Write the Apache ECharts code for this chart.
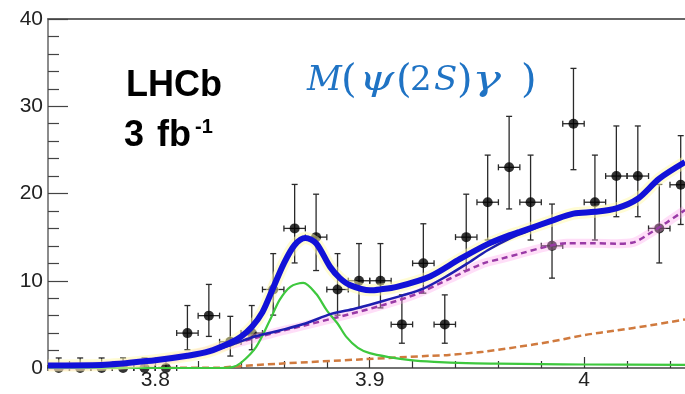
<!DOCTYPE html>
<html>
<head>
<meta charset="utf-8">
<script src="https://cdn.jsdelivr.net/npm/echarts@6/dist/echarts.min.js"></script>
<style>html,body{margin:0;padding:0;background:#fff;}#c{width:685px;height:394px;}</style>
</head>
<body>
<div id="c"></div>
<script>
// ---- data ----
const binCenters = [3.755,3.765,3.775,3.785,3.795,3.805,3.815,3.825,3.835,3.845,3.855,3.865,3.875,3.885,3.895,3.905,3.915,3.925,3.935,3.945,3.955,3.965,3.975,3.985,3.995,4.005,4.015,4.025,4.035,4.045];
const counts  = [0,0,0,0,0,0,4,6,3,4,9,16,15,9,10,10,5,12,5,15,19,23,19,14,28,19,22,22,16,21];
const errUp   = [1.15,1.15,1.15,1.15,1.15,1.15,3.16,3.58,2.92,3.16,4.11,5.04,4.92,4.11,4.26,4.26,3.38,4.53,3.38,4.92,5.40,5.84,5.40,4.79,6.34,5.40,5.74,5.74,5.04,5.63];
const errDown = [0,0,0,0,0,0,1.91,2.38,1.63,1.91,2.94,3.96,3.83,2.94,3.11,3.11,2.16,3.42,2.16,3.83,4.33,4.77,4.33,3.70,5.27,4.33,4.66,4.66,3.96,4.55];
const binHalfWidth = 0.005;

const totalX = [3.75,3.775,3.80,3.815,3.825,3.835,3.84,3.845,3.85,3.855,3.86,3.865,3.87,3.875,3.8815,3.8861,3.8908,3.9001,3.9048,3.9126,3.9281,3.9421,3.955,3.965,3.97,3.985,3.995,4.005,4.015,4.025,4.035,4.047];
const totalY = [0.3,0.35,0.9,1.4,1.9,2.9,3.6,4.7,6.4,9.2,12.0,14.1,14.9,14.3,11.6,10.3,9.5,8.9,9.0,9.3,10.5,12.5,14.2,15.2,15.6,16.9,17.7,17.9,18.3,19.4,21.7,23.6];

const thinX = [3.75,3.775,3.80,3.815,3.825,3.835,3.845,3.858,3.87,3.882,3.893,3.905,3.915,3.925,3.935,3.945,3.955,3.965,3.975,3.985];
const thinY = [0.3,0.35,0.9,1.4,1.9,2.6,3.5,4.3,5.1,6.2,6.8,7.6,8.3,9.1,10.4,11.9,13.5,14.8,15.8,16.9];

const bkgX = [3.75,3.775,3.80,3.82,3.84,3.855,3.87,3.891,3.906,3.922,3.937,3.953,3.961,3.97,3.984,3.992,4.004,4.015,4.023,4.031,4.038,4.047];
const bkgY = [0.2,0.3,0.8,1.7,3.0,4.0,4.9,6.2,7.2,8.5,10.2,12.0,12.5,13.1,14.0,14.3,14.3,14.25,14.4,15.5,16.6,18.1];

const bkg2X = [3.75,3.83,3.835,3.858,3.897,3.928,3.937,3.953,3.9685,3.984,4.0,4.015,4.031,4.047];
const bkg2Y = [0,0.03,0.15,0.5,1.0,1.4,1.5,1.87,2.4,3.0,3.77,4.3,4.9,5.56];

const sigX = [3.75,3.83,3.836,3.840,3.847,3.8535,3.858,3.863,3.869,3.875,3.880,3.885,3.889,3.8945,3.900,3.909,3.919,3.93,3.945,3.96,3.98,4.0,4.047];
const sigY = [0,0,0.1,0.6,2.4,5.5,7.8,9.3,9.75,8.5,6.6,5.1,3.6,2.3,1.7,1.25,0.9,0.7,0.55,0.5,0.45,0.4,0.35];

const xMajorTicks = [3.8,3.9,4.0];
const xMinorTicks = [3.76,3.78,3.82,3.84,3.86,3.88,3.92,3.94,3.96,3.98,4.02,4.04];
const xMin = 3.75, xMax = 4.047;

// ---- helpers ----
const pts = (xs, ys) => xs.map((x, i) => [x, ys[i]]);
const font = '"Liberation Sans", Arial, sans-serif';
const serif = '"DejaVu Serif", "Liberation Serif", serif';
const mathBlue = '#1f73c4';

function txt(s, x, y, f, color, sx) {
  return {type:'text', x:x, y:y, scaleX: sx || 1, style:{text:s, font:f, fill:color,
    align:'left', verticalAlign:'middle', textAlign:'left', textVerticalAlign:'middle'}};
}

// [char, left x, italic, font size, scaleX]
const mathChars = [
  ['M', 307, true, 34, 1], ['(', 341, false, 40, 1], ['\u03C8', 359, true, 36, 1.25], ['(', 396, false, 40, 1],
  ['2', 410, false, 34, 1], ['S', 434, true, 34, 1], [')', 457, false, 40, 1], ['\u03B3', 472, true, 36, 1.35], [')', 521, false, 40, 1]
];

const graphics = [
  txt('LHCb', 126, 86.5, 'bold 36px ' + font, '#000'),
  txt('3', 124, 136, 'bold 36px ' + font, '#000'),
  txt('fb', 157, 136, 'bold 36px ' + font, '#000'),
  txt('-1', 195, 127, 'bold 20px ' + font, '#000')
];
mathChars.forEach(([ch, x, it, fs, sx]) => {
  const paren = (ch === '(' || ch === ')');
  graphics.push(txt(ch, x, paren ? 82 : 81, (it ? 'italic ' : '') + fs + 'px ' + serif, mathBlue, sx));
});

const chart = echarts.init(document.getElementById('c'), null, {renderer:'canvas'});
chart.setOption({
  animation: false,
  backgroundColor: '#fff',
  grid: {left:48, right:0, top:19, bottom:26, containLabel:false},
  xAxis: [
    {type:'value', min:xMin, max:xMax, position:'bottom',
     axisLine:{show:true, onZero:false, lineStyle:{color:'#444', width:1.5}},
     axisTick:{show:true, inside:true, length:11, customValues:xMajorTicks, lineStyle:{color:'#333', width:1.2}},
     axisLabel:{show:true, customValues:xMajorTicks, margin:2, fontSize:21, fontFamily:font, color:'#222'},
     splitLine:{show:false}},
    {type:'value', min:xMin, max:xMax, position:'bottom',
     axisLine:{show:false}, axisLabel:{show:false}, splitLine:{show:false},
     axisTick:{show:true, inside:true, length:7, customValues:xMinorTicks, lineStyle:{color:'#333', width:1.2}}},
    {type:'value', min:xMin, max:xMax, position:'top',
     axisLine:{show:true, lineStyle:{color:'#666', width:2}}, axisLabel:{show:false}, axisTick:{show:false}, splitLine:{show:false}}
  ],
  yAxis: {type:'value', min:0, max:40, interval:10, position:'left',
    axisLine:{show:true, lineStyle:{color:'#666', width:1.5}},
    axisTick:{show:true, inside:true, length:20, lineStyle:{color:'#444', width:1.2}},
    minorTick:{show:true, splitNumber:5, length:11, lineStyle:{color:'#444', width:1.2}},
    axisLabel:{margin:5, fontSize:21, fontFamily:font, color:'#222'},
    splitLine:{show:false}},
  graphic: graphics,
  series: [
    {type:'custom', coordinateSystem:'cartesian2d', xAxisIndex:0, yAxisIndex:0, z:2,
     data: binCenters.map((x, i) => [x, counts[i], errDown[i], errUp[i], binHalfWidth]),
     encode:{x:0, y:1},
     renderItem: function(params, api) {
       const x = api.value(0), y = api.value(1), lo = api.value(2), hi = api.value(3), hw = api.value(4);
       const t = api.coord([x, y + hi]);
       const b = api.coord([x, y - lo]);
       const l = api.coord([x - hw, y]);
       const r = api.coord([x + hw, y]);
       const st = {stroke:'#2a2a2a', lineWidth:1.3};
       const cap = 3;
       const kids = [
         {type:'line', shape:{x1:t[0], y1:t[1], x2:b[0], y2:b[1]}, style:st},
         {type:'line', shape:{x1:t[0]-cap, y1:t[1], x2:t[0]+cap, y2:t[1]}, style:st},
         {type:'line', shape:{x1:l[0], y1:l[1], x2:r[0], y2:r[1]}, style:st},
         {type:'line', shape:{x1:l[0], y1:l[1]-cap, x2:l[0], y2:l[1]+cap}, style:st},
         {type:'line', shape:{x1:r[0], y1:r[1]-cap, x2:r[0], y2:r[1]+cap}, style:st}
       ];
       if (lo > 0) kids.push({type:'line', shape:{x1:b[0]-cap, y1:b[1], x2:b[0]+cap, y2:b[1]}, style:st});
       return {type:'group', children:kids};
     }},
    {type:'scatter', data: pts(binCenters, counts), symbol:'circle', symbolSize:10,
     itemStyle:{color:'#000'}, z:3, silent:true},
    {type:'line', data: pts(bkgX, bkgY), showSymbol:false, smooth:0.3, z:4,
     lineStyle:{color:'rgba(255,160,235,0.35)', width:9}},
    {type:'line', data: pts(bkgX, bkgY), showSymbol:false, smooth:0.3, z:5,
     lineStyle:{color:'#9a3aa6', width:2.5, type:[6,4]}},
    {type:'line', data: pts(bkg2X, bkg2Y), showSymbol:false, smooth:0.3, z:5,
     lineStyle:{color:'#d07a3e', width:2.5, type:[7,4]}},
    {type:'line', data: pts(sigX, sigY), showSymbol:false, smooth:0.3, z:6,
     lineStyle:{color:'#3ec83e', width:2.2}},
    {type:'line', data: pts(totalX, totalY), showSymbol:false, smooth:0.3, z:6,
     lineStyle:{color:'rgba(255,250,170,0.5)', width:12}},
    {type:'line', data: pts(thinX, thinY), showSymbol:false, smooth:0.3, z:7,
     lineStyle:{color:'#1e1eb0', width:2.5}},
    {type:'line', data: pts(totalX, totalY), showSymbol:false, smooth:0.3, z:8,
     lineStyle:{color:'#1212d8', width:6}}
  ]
});
</script>
</body>
</html>
